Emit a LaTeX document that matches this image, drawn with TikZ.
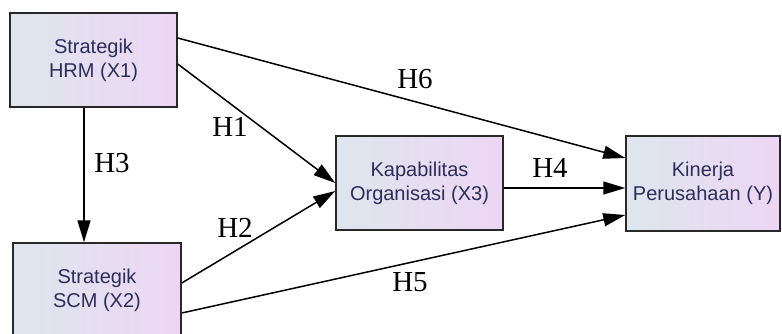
\documentclass[tikz,border=0pt]{standalone}
\usepackage{fontspec}
\setmainfont{Liberation Serif}
\newfontfamily\boxfont{Liberation Sans}
\usetikzlibrary{arrows.meta}
\definecolor{boxleft}{RGB}{222,230,238}
\definecolor{boxright}{RGB}{237,214,243}
\definecolor{boxtext}{RGB}{45,45,90}
\definecolor{boxline}{RGB}{40,40,40}

\begin{document}
\begin{tikzpicture}[x=1pt,y=-1pt,
  varbox/.style={draw=boxline, line width=1.5pt, left color=boxleft, right color=boxright,
    text=boxtext, align=center, inner sep=0pt, font=\boxfont\fontsize{20}{24}\selectfont},
  hyp/.style={line width=1.5pt, -{Triangle[length=22pt,width=13pt]}},
  hlabel/.style={inner sep=0pt, font=\fontsize{29}{29}\selectfont}]
\useasboundingbox (0,0) rectangle (782,333);
\clip (0,0) rectangle (782,333);

% variables
\node[varbox, minimum width=167pt, minimum height=94pt] (X1) at (93.5,60) {Strategik\\HRM (X1)};
\node[varbox, minimum width=168pt, minimum height=94pt] (X2) at (97,290) {Strategik\\SCM (X2)};
\node[varbox, minimum width=167pt, minimum height=94pt] (X3) at (419.5,183) {Kapabilitas\\Organisasi (X3)};
\node[varbox, minimum width=154pt, minimum height=95pt] (Y) at (703,183.5) {Kinerja\\Perusahaan (Y)};

% hypotheses
\draw[hyp] ([yshift=22pt]X1.east) -- ([yshift=25.5pt]Y.west);
\draw[hyp] ([yshift=-4pt]X1.east) -- (X3.west);
\draw[hyp] ([xshift=-9.5pt]X1.south) -- ([xshift=-13pt]X2.north);
\draw[hyp] ([yshift=7pt]X2.east) -- ([yshift=-8pt]X3.west);
\draw[hyp] ([yshift=-5pt]X3.east) -- ([yshift=-4.5pt]Y.west);
\draw[hyp] ([yshift=-23pt]X2.east) -- ([yshift=-31.5pt]Y.west);

\node[hlabel] (h1) at (230,127) {H1};
\node[hlabel] (h2) at (235,228) {H2};
\node[hlabel] (h3) at (112,163) {H3};
\node[hlabel] (h4) at (550,168) {H4};
\node[hlabel] (h5) at (410,282) {H5};
\node[hlabel] (h6) at (415,79) {H6};
\end{tikzpicture}
\end{document}
